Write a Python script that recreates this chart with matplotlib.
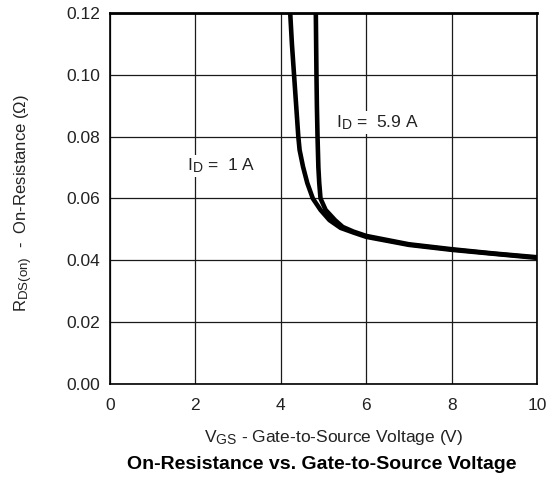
import matplotlib
matplotlib.use("Agg")
import matplotlib.pyplot as plt
import matplotlib._mathtext as mathtext_core

plt.rcParams['font.family'] = ['Liberation Sans', 'DejaVu Sans']
plt.rcParams['mathtext.fontset'] = 'custom'
plt.rcParams['mathtext.rm'] = 'Liberation Sans'
plt.rcParams['mathtext.it'] = 'Liberation Sans:italic'
plt.rcParams['mathtext.bf'] = 'Liberation Sans:bold'
# slightly larger subscripts than the mathtext default
mathtext_core.SHRINK_FACTOR = 0.8

# R_DS(on) vs V_GS, I_D = 1 A
vgs_1a = [4.22, 4.26, 4.31, 4.35, 4.41, 4.44, 4.52, 4.62, 4.75, 4.93, 5.14,
          5.40, 5.70, 6.00, 7.00, 8.00, 9.00, 10.00]
rds_1a = [0.120, 0.110, 0.100, 0.092, 0.080, 0.0757, 0.0703, 0.065, 0.060,
          0.0563, 0.053, 0.0505, 0.0490, 0.0476, 0.0450, 0.0434, 0.0421, 0.0408]

# R_DS(on) vs V_GS, I_D = 5.9 A
vgs_59a = [4.82, 4.835, 4.845, 4.86, 4.88, 4.90, 4.93, 5.05, 5.27, 5.45,
           5.70, 6.00, 7.00, 8.00, 9.00, 10.00]
rds_59a = [0.120, 0.100, 0.090, 0.080, 0.070, 0.065, 0.060, 0.0563, 0.053,
           0.0508, 0.0493, 0.0479, 0.0452, 0.0436, 0.0422, 0.0410]

x_ticks = [0, 2, 4, 6, 8, 10]
y_ticks = [0.00, 0.02, 0.04, 0.06, 0.08, 0.10, 0.12]

fig = plt.figure(figsize=(5.54, 4.79), dpi=100)
ax = fig.add_axes([0.1986, 0.1983, 0.9693 - 0.1986, 0.9729 - 0.1983])

ax.plot(vgs_1a, rds_1a, color='black', lw=3.3, solid_capstyle='butt',
        solid_joinstyle='round', zorder=3)
ax.plot(vgs_59a, rds_59a, color='black', lw=3.3, solid_capstyle='butt',
        solid_joinstyle='round', zorder=3)

ax.set_xlim(0, 10)
ax.set_ylim(0, 0.12)
ax.set_xticks(x_ticks)
ax.set_yticks(y_ticks)
ax.set_xticklabels([f"{v:d}" for v in x_ticks])
ax.set_yticklabels([f"{v:.2f}" for v in y_ticks])
ax.tick_params(axis='both', length=0, labelsize=12.5, colors='#222222')
ax.tick_params(axis='x', pad=10)
ax.tick_params(axis='y', pad=7)
ax.grid(True, color='#1a1a1a', lw=0.9)
ax.set_axisbelow(True)
for side, sp in ax.spines.items():
    sp.set_linewidth(1.2)
    sp.set_color('black')
ax.spines['top'].set_linewidth(2.0)

box = dict(facecolor='white', edgecolor='none', pad=1.5)
ax.text(1.8, 0.0705, r"I$_\mathregular{D}$ =  1 A", fontsize=12.5, color='#222222',
        va='center', ha='left', bbox=box, zorder=2)
ax.text(5.3, 0.0845, r"I$_\mathregular{D}$ =  5.9 A", fontsize=12.5, color='#222222',
        va='center', ha='left', bbox=box, zorder=2)

fig.text(0.043, 0.575, r"R$_\mathregular{DS(on)}$  -  On-Resistance ($\Omega$)",
         rotation=90, fontsize=12.0, color='#222222', ha='center', va='center')
fig.text(0.603, 0.086, r"V$_\mathregular{GS}$ - Gate-to-Source Voltage (V)",
         fontsize=12.5, color='#222222', ha='center', va='center')
fig.text(0.580, 0.030, "On-Resistance vs. Gate-to-Source Voltage",
         fontsize=14, fontweight='bold', color='black', ha='center', va='center')

fig.savefig("out.png", dpi=100, facecolor='white')
